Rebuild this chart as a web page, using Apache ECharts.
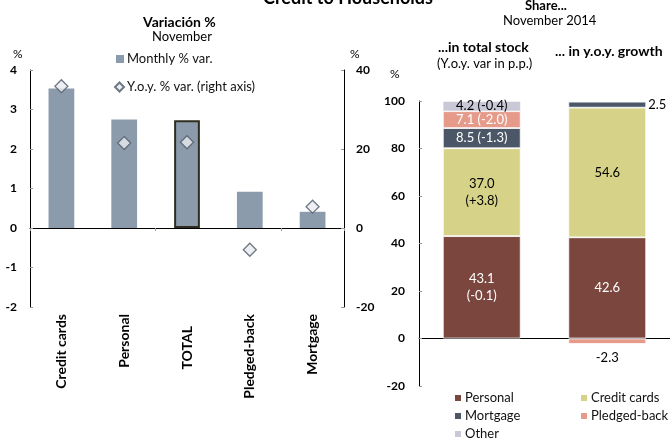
<!DOCTYPE html>
<html><head><meta charset="utf-8">
<script src="https://cdn.jsdelivr.net/npm/echarts@6/dist/echarts.min.js"></script>
<style>html,body{margin:0;padding:0;background:#fff}#c{width:670px;height:439px}</style>
</head><body><div id="c"></div>
<script>
const categories = ['Credit cards', 'Personal', 'TOTAL', 'Pledged-back', 'Mortgage'];
const monthlyVar = [3.53, 2.75, 2.73, 0.92, 0.41];
const yoyVar = [35.9, 21.5, 21.7, -5.5, 5.4];
const leftTicks = [-2, -1, 0, 1, 2, 3, 4];
const rightTicks = [-20, 0, 20, 40];

const shareGroups = ['...in total stock', '... in y.o.y. growth'];
const personal = [43.1, 42.6];
const creditCards = [37.0, 54.6];
const mortgage = [8.5, 2.5];
const pledged = [7.1, -2.3];
const other = [4.2, 0.3];
const personalChg = ['-0.1', null];
const creditCardsChg = ['+3.8', null];
const mortgageChg = ['-1.3', null];
const pledgedChg = ['-2.0', null];
const otherChg = ['-0.4', null];

const FONT = 'Lato';
const chart = echarts.init(document.getElementById('c'));

function fmt(v) { return v.toFixed(1); }

function stackData(vals, chgs, opts) {
  return vals.map((v, i) => {
    const o = opts[i] || {};
    let text = '';
    if (o.show !== false) {
      text = fmt(v);
      if (chgs[i] !== null) text += (o.twoLine ? '\n' : ' ') + '(' + chgs[i] + ')';
    }
    return {
      value: v,
      label: {
        show: o.show !== false,
        formatter: text,
        position: o.pos || 'inside',
        color: o.color || '#000',
        fontSize: 13,
        fontFamily: FONT,
        lineHeight: 17,
        distance: o.dist || 5
      }
    };
  });
}

function oneLegend(name, icon, left, cy, size, fs) {
  return {
    data: [{ name: name, icon: icon }],
    left: left, top: cy - 8, padding: 0, itemWidth: size, itemHeight: size,
    textStyle: { fontSize: fs, fontFamily: FONT, color: '#111', padding: [0, 0, 0, -2], lineHeight: 16 }
  };
}

const txt = (t, left, top, font) => ({ type: 'text', left: left, top: top, style: { text: t, font: font + ' ' + FONT, fill: '#000' } });

const option = {
  animation: false,
  textStyle: { fontFamily: FONT },
  graphic: [
    txt('Credit to Households', 263, -11, 'bold 18px'),
    txt('Variación %', 143, 15, 'bold 14px'),
    txt('November', 152, 30, '13px'),
    txt('%', 13, 48, '12px'),
    txt('%', 350, 48, '12px'),
    txt('Share...', 525, -1, 'bold 13px'),
    txt('November 2014', 503, 14, '13px'),
    txt('...in total stock', 438, 40, 'bold 14px'),
    txt('(Y.o.y. var in p.p.)', 437, 57, '13px'),
    txt('... in y.o.y. growth', 555, 44, 'bold 14px'),
    txt('%', 390, 68, '12px')
  ],
  legend: [
    oneLegend('Monthly % var.', 'rect', 116, 59, 8, 13),
    oneLegend('Y.o.y. % var. (right axis)', 'diamond', 114, 87, 9, 13),
    oneLegend('Personal', 'rect', 453, 398, 8, 13),
    oneLegend('Mortgage', 'rect', 453, 416, 8, 13),
    oneLegend('Other', 'rect', 453, 434, 8, 13),
    oneLegend('Credit cards', 'rect', 579, 398, 8, 13),
    oneLegend('Pledged-back', 'rect', 579, 416, 8, 13)
  ],
  grid: [
    { left: 30, right: 326, top: 70, bottom: 132 },
    { left: 419, right: -7, top: 101, bottom: 53 }
  ],
  xAxis: [
    {
      type: 'category', data: categories, gridIndex: 0, position: 'bottom',
      axisLine: { show: false, onZero: false }, axisTick: { show: false },
      axisLabel: {
        rotate: 90, fontWeight: 'bold', fontSize: 14, fontFamily: FONT, color: '#000', margin: 7,
        formatter: v => v === 'TOTAL' ? '{t|' + v + '}' : v,
        rich: { t: { fontWeight: 'bold', fontSize: 14, fontFamily: FONT, color: '#000', padding: [0, 12, 0, 0] } }
      }
    },
    {
      type: 'category', data: categories, gridIndex: 0,
      axisLine: { show: true, onZero: true, onZeroAxisIndex: 0, lineStyle: { color: '#000', width: 1 } },
      axisTick: { show: true, inside: true, length: 3, lineStyle: { color: '#999' } },
      axisLabel: { show: false }
    },
    {
      type: 'category', data: shareGroups, gridIndex: 1,
      axisLine: { show: true, onZero: true, lineStyle: { color: '#000', width: 1 } },
      axisTick: { show: false }, axisLabel: { show: false }
    }
  ],
  yAxis: [
    {
      type: 'value', gridIndex: 0, min: leftTicks[0], max: leftTicks[leftTicks.length - 1], interval: 1,
      axisLine: { show: true, lineStyle: { color: '#000' } },
      axisTick: { show: true, inside: true, length: 3, lineStyle: { color: '#999' } },
      splitLine: { show: false },
      axisLabel: { fontWeight: 'bold', fontSize: 12, fontFamily: FONT, color: '#000', margin: 13 }
    },
    {
      type: 'value', gridIndex: 0, position: 'right', min: rightTicks[0], max: rightTicks[rightTicks.length - 1], interval: 20,
      axisLine: { show: true, lineStyle: { color: '#000' } },
      axisTick: { show: true, inside: true, length: 3, lineStyle: { color: '#999' } },
      splitLine: { show: false },
      axisLabel: { fontWeight: 'bold', fontSize: 12, fontFamily: FONT, color: '#000', margin: 12 }
    },
    {
      type: 'value', gridIndex: 1, min: -20, max: 100, interval: 20,
      axisLine: { show: true, lineStyle: { color: '#000' } },
      axisTick: { show: true, inside: true, length: 3, lineStyle: { color: '#999' } },
      splitLine: { show: false },
      axisLabel: { fontWeight: 'bold', fontSize: 12, fontFamily: FONT, color: '#000', margin: 14 }
    }
  ],
  series: [
    {
      name: 'Monthly % var.', type: 'bar', xAxisIndex: 0, yAxisIndex: 0, barWidth: '41%',
      itemStyle: { color: '#8C9BAC' },
      data: monthlyVar.map((v, i) => categories[i] === 'TOTAL'
        ? { value: v, itemStyle: { borderColor: '#2E2E1E', borderWidth: 2 } }
        : v)
    },
    {
      name: 'Y.o.y. % var. (right axis)', type: 'scatter', xAxisIndex: 0, yAxisIndex: 1,
      symbol: 'diamond', symbolSize: 13,
      itemStyle: { color: '#E9EBEF', borderColor: '#4D5766', borderWidth: 1.3 },
      data: yoyVar, z: 5
    },
    {
      name: 'Personal', type: 'bar', stack: 's', xAxisIndex: 2, yAxisIndex: 2, barWidth: '62%',
      itemStyle: { color: '#7A463E', borderColor: '#fff', borderWidth: 0.8 },
      data: stackData(personal, personalChg, [{ color: '#fff', twoLine: true }, { color: '#fff' }])
    },
    {
      name: 'Credit cards', type: 'bar', stack: 's', xAxisIndex: 2, yAxisIndex: 2,
      itemStyle: { color: '#D6D287', borderColor: '#fff', borderWidth: 0.8 },
      data: stackData(creditCards, creditCardsChg, [{ twoLine: true }, {}])
    },
    {
      name: 'Mortgage', type: 'bar', stack: 's', xAxisIndex: 2, yAxisIndex: 2,
      itemStyle: { color: '#4B5767', borderColor: '#fff', borderWidth: 0.8 },
      data: stackData(mortgage, mortgageChg, [{ color: '#fff' }, { pos: 'right', dist: 2 }])
    },
    {
      name: 'Pledged-back', type: 'bar', stack: 's', xAxisIndex: 2, yAxisIndex: 2,
      itemStyle: { color: '#E59A8A', borderColor: '#fff', borderWidth: 0.8 },
      data: stackData(pledged, pledgedChg, [{ color: '#fff' }, { pos: 'bottom', dist: 5 }])
    },
    {
      name: 'Other', type: 'bar', stack: 's', xAxisIndex: 2, yAxisIndex: 2,
      itemStyle: { color: '#C9C8D6', borderColor: '#fff', borderWidth: 0.5 },
      data: stackData(other, otherChg, [{}, { show: false }])
    }
  ]
};
chart.setOption(option);
</script>
</body></html>
